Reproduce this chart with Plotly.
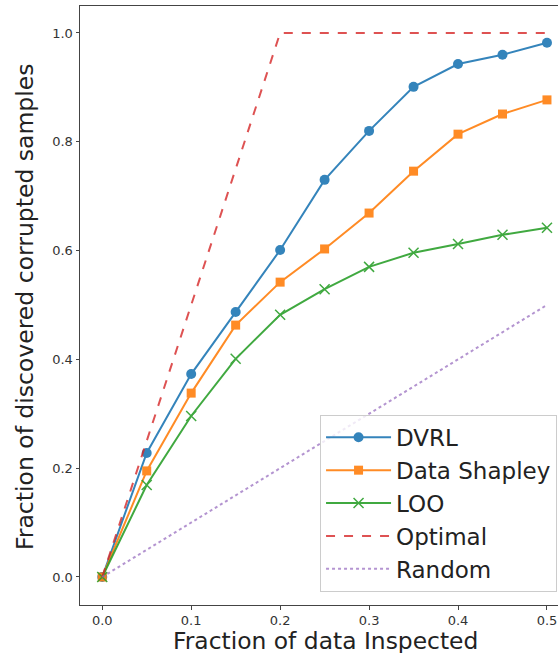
import plotly.graph_objects as go

x_frac = [0.0, 0.05, 0.1, 0.15, 0.2, 0.25, 0.3, 0.35, 0.4, 0.45, 0.5]
dvrl = [0.0, 0.228, 0.373, 0.487, 0.601, 0.730, 0.820, 0.901, 0.943, 0.960, 0.982]
shapley = [0.0, 0.195, 0.338, 0.463, 0.542, 0.603, 0.669, 0.746, 0.814, 0.851, 0.877]
loo = [0.0, 0.169, 0.296, 0.401, 0.482, 0.529, 0.570, 0.596, 0.612, 0.629, 0.642]
optimal_x = [0.0, 0.2, 0.5]
optimal = [0.0, 1.0, 1.0]
random_x = [0.0, 0.5]
random_y = [0.0, 0.5]

x_ticks = [0.0, 0.1, 0.2, 0.3, 0.4, 0.5]
y_ticks = [0.0, 0.2, 0.4, 0.6, 0.8, 1.0]

x_title = "Fraction of data Inspected"
y_title = "Fraction of discovered corrupted samples"

FONT = "DejaVu Sans"

fig = go.Figure()
fig.add_trace(go.Scatter(x=x_frac, y=dvrl, name="DVRL", mode="lines+markers",
                         line=dict(color="#1f77b4", width=2), opacity=0.9,
                         marker=dict(symbol="circle", size=10, color="#1f77b4")))
fig.add_trace(go.Scatter(x=x_frac, y=shapley, name="Data Shapley", mode="lines+markers",
                         line=dict(color="#ff7f0e", width=2), opacity=0.9,
                         marker=dict(symbol="square", size=9, color="#ff7f0e")))
fig.add_trace(go.Scatter(x=x_frac, y=loo, name="LOO", mode="lines+markers",
                         line=dict(color="#2ca02c", width=2), opacity=0.9,
                         marker=dict(symbol="x-thin", size=10, color="#2ca02c",
                                     line=dict(color="#2ca02c", width=1.5))))
fig.add_trace(go.Scatter(x=optimal_x, y=optimal, name="Optimal", mode="lines",
                         line=dict(color="#d62728", width=2, dash="dash"), opacity=0.8))
fig.add_trace(go.Scatter(x=random_x, y=random_y, name="Random", mode="lines",
                         line=dict(color="#9467bd", width=2, dash="dot"), opacity=0.7))

fig.update_layout(
    width=558, height=654,
    margin=dict(l=80, r=0, t=6, b=49),
    paper_bgcolor="white", plot_bgcolor="white",
    font=dict(family=FONT, color="#222"),
    legend=dict(x=0.998, y=0.022, xanchor="right", yanchor="bottom",
                bgcolor="rgba(255,255,255,0.8)", bordercolor="#cccccc", borderwidth=1,
                font=dict(size=23, family=FONT, color="#222"),
                itemwidth=65, tracegroupgap=0),
    showlegend=True,
    annotations=[
        dict(text=x_title, xref="paper", yref="paper", x=0.5126, y=-0.0603,
             xanchor="center", yanchor="middle", showarrow=False, borderpad=0,
             height=24, valign="middle",
             font=dict(size=23.4, family=FONT, color="#222")),
        dict(text=y_title, xref="paper", yref="paper", x=-0.115, y=0.4975,
             xanchor="center", yanchor="middle", textangle=-90, showarrow=False, borderpad=0,
             font=dict(size=23.5, family=FONT, color="#222")),
    ],
)
fig.update_xaxes(range=[-0.025, 0.5124], tickvals=x_ticks, tickformat=".1f",
                 showgrid=False, zeroline=False, showline=True, linecolor="#444", linewidth=1,
                 mirror=True, ticks="outside", ticklen=3.5, tickcolor="#444",
                 tickfont=dict(size=13, color="#333"))
fig.update_yaxes(range=[-0.0515, 1.0496], tickvals=y_ticks, tickformat=".1f",
                 showgrid=False, zeroline=False, showline=True, linecolor="#444", linewidth=1,
                 ticks="outside", ticklen=3.5, tickcolor="#444",
                 tickfont=dict(size=13, color="#333"))

fig.write_html("out.html")
